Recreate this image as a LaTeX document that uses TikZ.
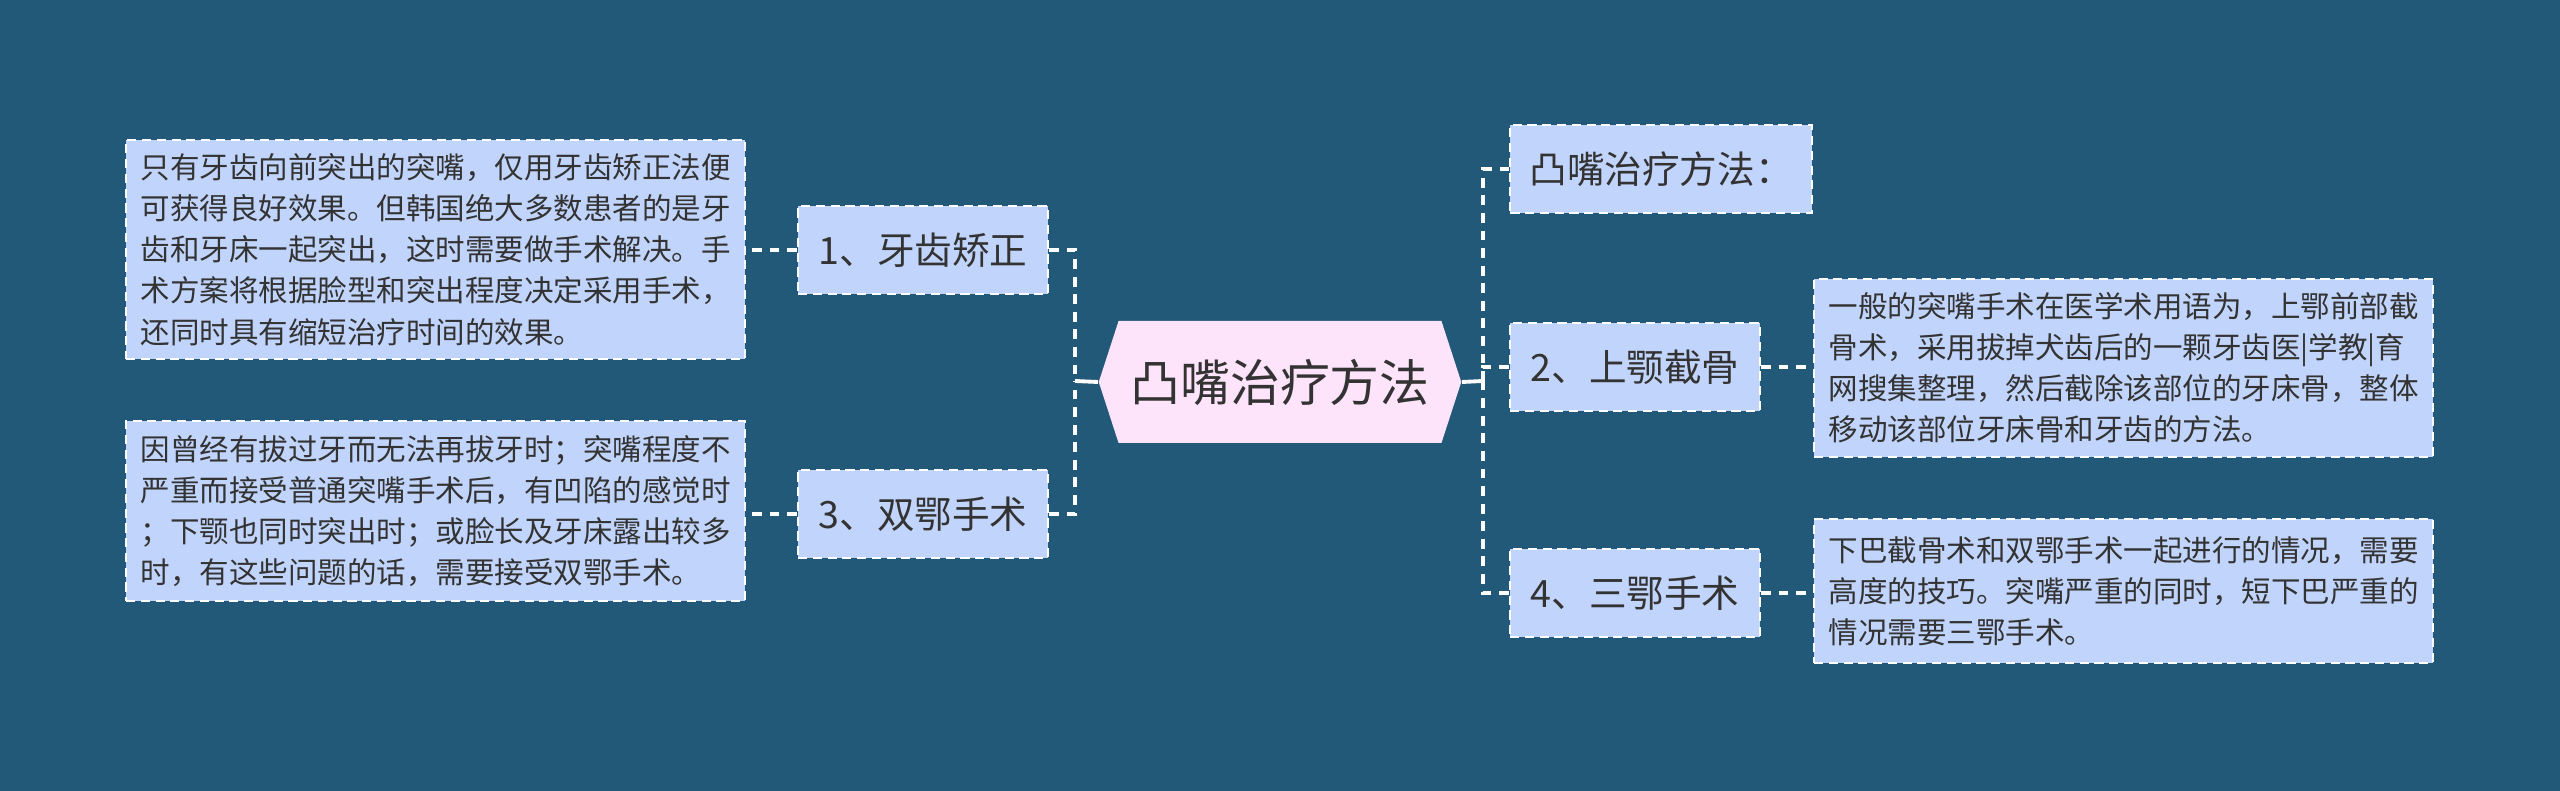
\documentclass[tikz,border=0pt]{standalone}
\usepackage{fontspec}
\setmainfont{Noto Sans CJK SC}
\usetikzlibrary{shapes.symbols}
\definecolor{bgblue}{RGB}{34,88,120}
\definecolor{boxblue}{RGB}{193,212,251}
\definecolor{hubpink}{RGB}{253,228,251}
\definecolor{inkgray}{RGB}{51,51,51}

\begin{document}
\begin{tikzpicture}[
    topic/.style={draw=white, line width=0.6pt, dash pattern=on 2.6pt off 1.6pt,
        fill=boxblue, text=inkgray, font=\fontsize{10.7}{13}\selectfont,
        minimum height=0.88cm, inner xsep=0.19cm},
    leaf/.style={topic, font=\fontsize{8.4}{11.7}\selectfont,
        text width=5.9cm, align=left, inner xsep=0.145cm},
    hub/.style={shape=signal, signal to=west and east, signal pointer angle=144,
        fill=hubpink, text=inkgray, font=\fontsize{14.2}{17}\selectfont,
        minimum height=1.22cm, minimum width=3.55cm},
    trunk/.style={white, line width=1.1pt},
    twig/.style={white, line width=1.1pt, dash pattern=on 2.8pt off 2.2pt}
]

    % background
    \fill[bgblue] (0,0) rectangle (25.6,7.91);
    \useasboundingbox (0,0) rectangle (25.6,7.91);

    % central topic
    \node[hub] (hub) at (12.80,4.09) {凸嘴治疗方法};

    % left branches
    \node[topic, minimum width=2.5cm] (ortho) at (9.23,5.41) {1、牙齿矫正};
    \node[topic, minimum width=2.5cm] (dbljaw) at (9.23,2.77) {3、双鄂手术};

    \node[leaf, minimum height=2.19cm] (orthonote) at (4.355,5.415)
        {只有牙齿向前突出的突嘴，仅用牙齿矫正法便\\
         可获得良好效果。但韩国绝大多数患者的是牙\\
         齿和牙床一起突出，这时需要做手术解决。手\\
         术方案将根据脸型和突出程度决定采用手术，\\
         还同时具有缩短治疗时间的效果。};
    \node[leaf, minimum height=1.80cm] (dbljawnote) at (4.355,2.80)
        {因曾经有拔过牙而无法再拔牙时；突嘴程度不\\
         严重而接受普通突嘴手术后，有凹陷的感觉时\\
         ；下颚也同时突出时；或脸长及牙床露出较多\\
         时，有这些问题的话，需要接受双鄂手术。};

    % right branches
    \node[topic] (intro) at (16.61,6.22) {凸嘴治疗方法：};
    \node[topic, minimum width=2.5cm] (upjaw) at (16.35,4.24) {2、上颚截骨};
    \node[topic, minimum width=2.5cm] (trijaw) at (16.35,1.98) {4、三鄂手术};

    \node[leaf, minimum height=1.78cm] (upjawnote) at (21.235,4.23)
        {一般的突嘴手术在医学术用语为，上鄂前部截\\
         骨术，采用拔掉犬齿后的一颗牙齿医|学教|育\\
         网搜集整理，然后截除该部位的牙床骨，整体\\
         移动该部位牙床骨和牙齿的方法。};
    \node[leaf, minimum height=1.44cm] (trijawnote) at (21.235,2.00)
        {下巴截骨术和双鄂手术一起进行的情况，需要\\
         高度的技巧。突嘴严重的同时，短下巴严重的\\
         情况需要三鄂手术。};

    % junctions
    \coordinate (ljn) at (10.75,4.10);
    \coordinate (rjn) at (14.83,4.10);

    % connectors, left side
    \draw[trunk] (hub.west) -- (ljn);
    \draw[twig] (ortho.east) -| (ljn);
    \draw[twig] (dbljaw.east) -| (ljn);
    \draw[twig] (ortho.west) -- (ortho.west -| orthonote.east);
    \draw[twig] (dbljaw.west) -- (dbljaw.west -| dbljawnote.east);

    % connectors, right side
    \draw[trunk] (hub.east) -- (rjn);
    \draw[twig] (intro.west) -| (rjn);
    \draw[twig] (upjaw.west) -| (rjn);
    \draw[twig] (trijaw.west) -| (rjn);
    \draw[twig] (upjaw.east) -- (upjaw.east -| upjawnote.west);
    \draw[twig] (trijaw.east) -- (trijaw.east -| trijawnote.west);

\end{tikzpicture}
\end{document}
